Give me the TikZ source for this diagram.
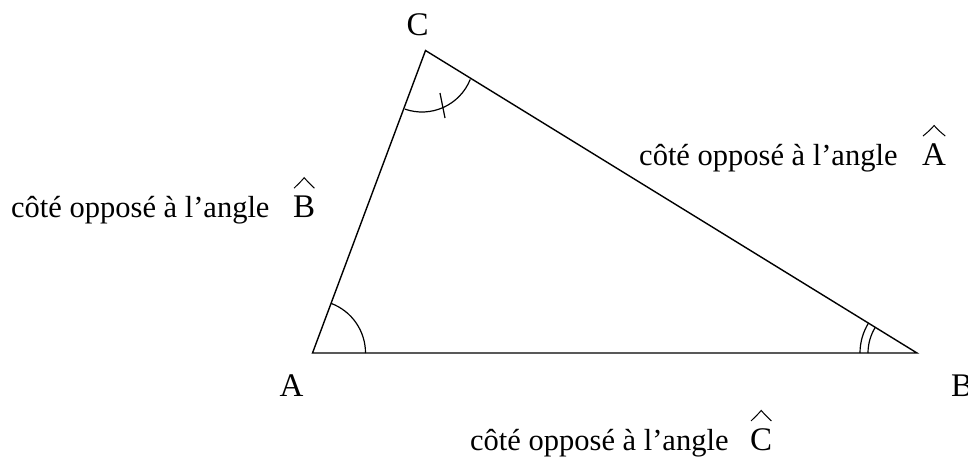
\documentclass[tikz,border=0pt]{standalone}
\usepackage{fontspec}
\setmainfont{Liberation Serif}
\usetikzlibrary{calc}
\begin{document}
\begin{tikzpicture}[x=1pt,y=-1pt,
  side/.style={line width=1.4pt,line join=miter},
  anglemark/.style={line width=1.2pt},
  txt/.style={inner sep=0pt,anchor=base west,font=\fontsize{30.5}{36}\selectfont},
  vtx/.style={inner sep=0pt,font=\fontsize{33}{40}\selectfont},
  hatletter/.style={inner sep=0pt,anchor=base west,font=\fontsize{33}{40}\selectfont},
  hatline/.style={line width=1pt}]
\useasboundingbox (0,0) rectangle (968,459);
% vertices
\coordinate (A) at (312.5,353);
\coordinate (B) at (917,353);
\coordinate (C) at (425.5,50.5);
\draw[side] (A) -- (B) -- (C) -- cycle;
% angle marks
\draw[anglemark] ($(A)+(53,0)$) arc[start angle=0,end angle=-69.5,radius=53];
\draw[anglemark] ($(B)+(-57,0)$) arc[start angle=180,end angle=211.7,radius=57];
\draw[anglemark] ($(B)+(-49,0)$) arc[start angle=180,end angle=211.7,radius=49];
\coordinate (Cc) at (422,60);
\draw[anglemark] ($(Cc)+(109.3:52)$) arc[start angle=109.3,end angle=22,radius=52];
\coordinate (t1) at (440,93);
\coordinate (t2) at (445,118);
\draw[anglemark] (t1) -- (t2);
% vertex labels
\node[vtx] (la) at (291.5,386) {A};
\node[vtx] (lb) at (962,386) {B};
\node[vtx] (lc) at (417.5,24.5) {C};
% side labels
\node[txt] (sa) at (639,165) {côté opposé à l’angle};
\node[hatletter] (ha) at (922,165) {A};
\node[txt] (sb) at (11,217) {côté opposé à l’angle};
\node[hatletter] (hb) at (293,217) {B};
\node[txt] (sc) at (470,450) {côté opposé à l’angle};
\node[hatletter] (hc) at (750,450) {C};
\foreach \h in {ha,hb,hc}{
  \draw[hatline] ($(\h.north west)+(1,-7)$) .. controls ($(\h.north)+(-4,-13)$) .. ($(\h.north)+(0,-17.5)$)
     .. controls ($(\h.north)+(4,-13)$) .. ($(\h.north east)+(-1,-7)$);
}
\end{tikzpicture}
\end{document}
